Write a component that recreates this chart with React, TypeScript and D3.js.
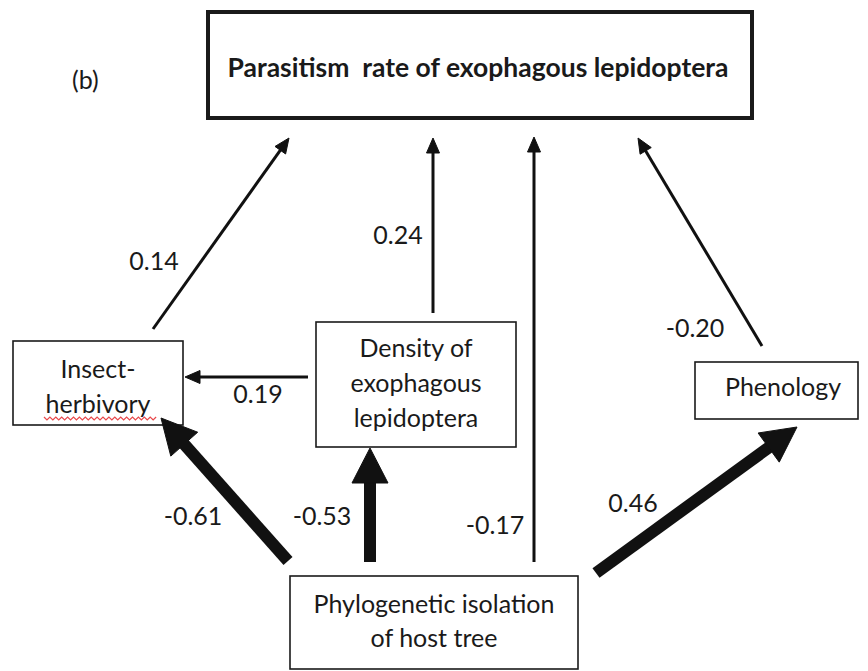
import React from "react";
import * as d3 from "d3";

// ---- data ----
const panelLabel = "(b)";
const nodeIds = ["parasitism", "herbivory", "density", "phenology", "phylo"];
const nodeLines: string[][] = [
  ["Parasitism  rate of exophagous lepidoptera"],
  ["Insect-", "herbivory"],
  ["Density of", "exophagous", "lepidoptera"],
  ["Phenology"],
  ["Phylogenetic isolation", "of host tree"],
];
const edgeFrom = ["herbivory", "density", "phylo", "phenology", "density", "phylo", "phylo", "phylo"];
const edgeTo = ["parasitism", "parasitism", "parasitism", "parasitism", "herbivory", "herbivory", "density", "phenology"];
const coefficients = [0.14, 0.24, -0.17, -0.2, 0.19, -0.61, -0.53, 0.46];
const coefLabels = ["0.14", "0.24", "-0.17", "-0.20", "0.19", "-0.61", "-0.53", "0.46"];

// ---- layout (pixel geometry of the drawing) ----
const boxLayout: Record<string, { x0: number; y0: number; x1: number; y1: number; cx: number; baselines: number[]; border: number }> = {
  parasitism: { x0: 208, y0: 12, x1: 752, y1: 118, cx: 478, baselines: [77], border: 4 },
  herbivory: { x0: 13, y0: 341, x1: 183, y1: 425, cx: 98, baselines: [378, 413], border: 1.6 },
  density: { x0: 316, y0: 322, x1: 516, y1: 447, cx: 416, baselines: [357, 392, 427], border: 1.6 },
  phenology: { x0: 695, y0: 362, x1: 858, y1: 419, cx: 783, baselines: [396], border: 1.6 },
  phylo: { x0: 290, y0: 576, x1: 578, y1: 669, cx: 434, baselines: [613, 647], border: 1.6 },
};
// start and tip points of each path, and label anchor
const edgeLayout = [
  { s: [153, 329], t: [289, 138], l: [154, 270] },
  { s: [433, 313], t: [433, 138], l: [398, 244] },
  { s: [534, 562], t: [534, 137], l: [495, 534] },
  { s: [762, 346], t: [638, 138], l: [695, 337] },
  { s: [308, 377], t: [185, 377], l: [258, 403] },
  { s: [288, 561], t: [161, 418], l: [193, 525] },
  { s: [370, 562], t: [370, 448], l: [322, 525] },
  { s: [596, 573], t: [797, 427], l: [633, 512] },
];

const FONT = "Lato, 'Open Sans', sans-serif";
const INK = "#1a1a1a";
const BODY_SIZE = 25;
const TITLE_SIZE = 26.5;

export default function App() {
  const width = 868;
  const height = 671;
  const strength = d3.scaleThreshold<number, number>().domain([0.4]).range([3, 12]);
  const headLen = d3.scaleThreshold<number, number>().domain([0.4]).range([15, 35]);
  const headHalf = d3.scaleThreshold<number, number>().domain([0.4]).range([6.5, 18]);
  const line = d3.line();

  const edges = coefficients.map((c, i) => {
    const L = edgeLayout[i];
    const [sx, sy] = L.s;
    const [tx, ty] = L.t;
    const dx = tx - sx;
    const dy = ty - sy;
    const len = Math.hypot(dx, dy);
    const ux = dx / len;
    const uy = dy / len;
    const hl = headLen(Math.abs(c));
    const hw = headHalf(Math.abs(c));
    const bx = tx - ux * hl;
    const by = ty - uy * hl;
    const nx = -uy;
    const ny = ux;
    const shaft = line([
      [sx, sy],
      [bx + ux * 2, by + uy * 2],
    ]);
    const head = line([
      [tx, ty],
      [bx + nx * hw, by + ny * hw],
      [bx - nx * hw, by - ny * hw],
    ]) + "Z";
    return { key: edgeFrom[i] + "-" + edgeTo[i], shaft, head, sw: strength(Math.abs(c)), label: coefLabels[i], lx: L.l[0], ly: L.l[1] };
  });

  // red spell-check squiggle under "herbivory"
  const squiggle = d3.range(0, 39).map((k) => [44 + k * 2.95, k % 2 === 0 ? 417 : 420] as [number, number]);

  return (
    <svg width={width} height={height} style={{ position: "absolute", left: 0, top: 0, background: "#fff" }}>
      <rect x={0} y={0} width={width} height={height} fill="#fff" />
      <text x={72} y={89} fontFamily={FONT} fontSize={BODY_SIZE} fill={INK}>
        {panelLabel}
      </text>
      {nodeIds.map((id, i) => {
        const b = boxLayout[id];
        const isTitle = id === "parasitism";
        return (
          <g key={id}>
            <rect
              x={b.x0}
              y={b.y0}
              width={b.x1 - b.x0}
              height={b.y1 - b.y0}
              fill="#fff"
              stroke={INK}
              strokeWidth={b.border}
            />
            {nodeLines[i].map((t, j) => (
              <text
                key={j}
                x={b.cx}
                y={b.baselines[j]}
                textAnchor="middle"
                fontFamily={FONT}
                fontSize={isTitle ? TITLE_SIZE : BODY_SIZE}
                fontWeight={isTitle ? 700 : 400}
                fill={INK}
                style={{ whiteSpace: "pre" }}
              >
                {t}
              </text>
            ))}
          </g>
        );
      })}
      <path d={line(squiggle) || ""} fill="none" stroke="#e8484b" strokeWidth={1.2} />
      {edges.map((e) => (
        <g key={e.key}>
          <path d={e.shaft || ""} stroke="#111" strokeWidth={e.sw} fill="none" />
          <path d={e.head} fill="#111" stroke="#111" strokeWidth={1} strokeLinejoin="miter" />
          <text x={e.lx} y={e.ly} textAnchor="middle" fontFamily={FONT} fontSize={BODY_SIZE} fill={INK}>
            {e.label}
          </text>
        </g>
      ))}
    </svg>
  );
}
